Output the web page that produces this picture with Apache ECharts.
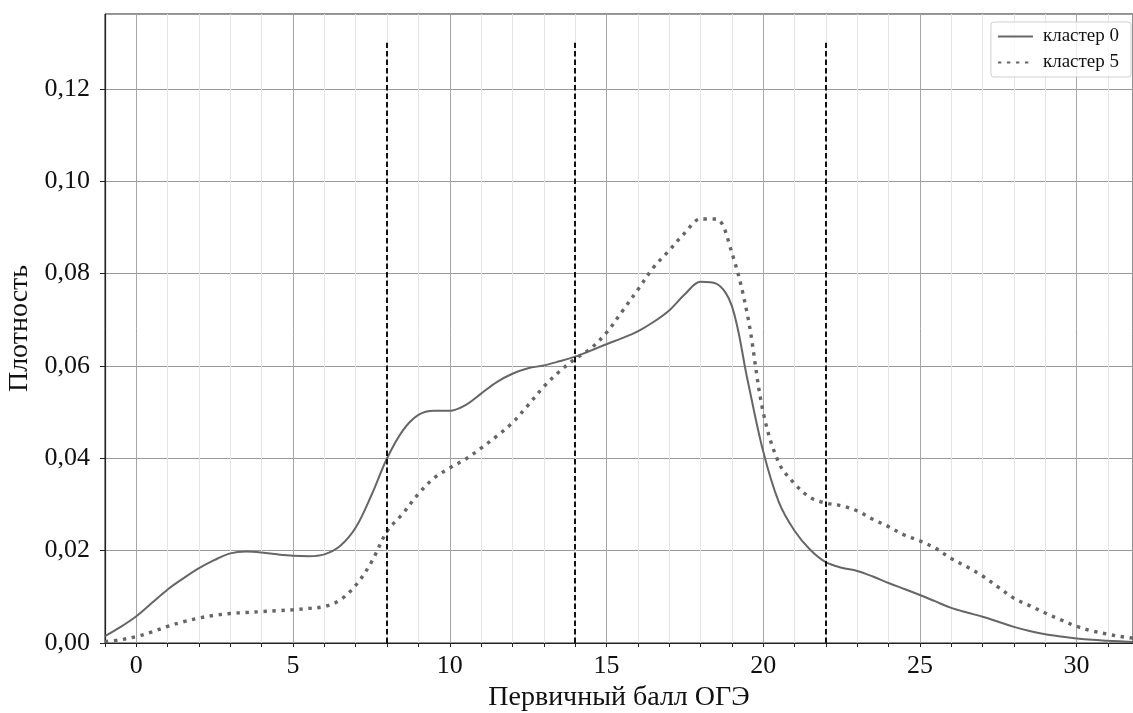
<!DOCTYPE html>
<html>
<head>
<meta charset="utf-8">
<script src="https://cdn.jsdelivr.net/npm/echarts@6/dist/echarts.min.js"></script>
<style>html,body{margin:0;padding:0;background:#fff;}#c{width:1133px;height:713px;}</style>
</head>
<body>
<div id="c"></div>
<script>
const xs = [-1,-0.5,0,0.5,1,1.5,2,2.5,3,3.5,4,4.5,5,5.5,6,6.5,7,7.5,8,8.5,9,9.5,10,10.5,11,11.5,12,12.5,13,13.5,14,14.5,15,15.5,16,16.5,17,17.5,18,18.5,19,19.5,20,20.5,21,21.5,22,22.5,23,23.5,24,24.5,25,25.5,26,26.5,27,27.5,28,28.5,29,29.5,30,30.5,31,31.5,32];
const cluster0 = [0.0015,0.0035,0.0058,0.0087,0.0116,0.014,0.0162,0.018,0.0194,0.0198,0.0196,0.0192,0.0189,0.0188,0.0192,0.021,0.025,0.032,0.040,0.046,0.0494,0.0503,0.0503,0.0515,0.054,0.0565,0.0583,0.0595,0.0601,0.061,0.062,0.0633,0.0647,0.066,0.0675,0.0695,0.072,0.0755,0.0782,0.0778,0.073,0.057,0.0415,0.0305,0.0243,0.0202,0.0175,0.0163,0.0156,0.0144,0.013,0.0117,0.0104,0.009,0.0076,0.0066,0.0057,0.0046,0.0035,0.0026,0.0019,0.0014,0.001,0.0007,0.0005,0.0003,0.0002];
const cluster5 = [0.0003,0.0007,0.0014,0.0024,0.0036,0.0046,0.0054,0.006,0.0064,0.0066,0.0068,0.007,0.0072,0.0075,0.0079,0.0093,0.0125,0.0175,0.0242,0.028,0.0323,0.0357,0.0379,0.0398,0.0422,0.0448,0.0477,0.0515,0.0555,0.0588,0.0615,0.0638,0.0672,0.0718,0.0765,0.0813,0.085,0.0888,0.0918,0.0918,0.0845,0.071,0.050,0.039,0.0345,0.0315,0.0303,0.0297,0.0286,0.0268,0.0252,0.0234,0.0221,0.0205,0.0183,0.0165,0.0145,0.0121,0.0097,0.0081,0.0065,0.005,0.0036,0.0026,0.0019,0.0013,0.0009];
const seriesNames = ['кластер 0', 'кластер 5'];
const vlines = [8, 14, 22];
const vlineTop = 0.13;
const xRange = [-1, 31.8];
const yRange = [0, 0.1362];

const FONT = '"Liberation Serif", "DejaVu Serif", serif';
const chart = echarts.init(document.getElementById('c'));
chart.setOption({
  animation: false,
  backgroundColor: '#fff',
  grid: { left: 105, right: 0, top: 14, bottom: 70, containLabel: false, outerBoundsMode: 'none',
          show: true, borderColor: '#222', borderWidth: 1, backgroundColor: 'transparent' },
  legend: {
    orient: 'vertical', right: 2, top: 22,
    padding: [5, 12, 5, 6], itemGap: 7, itemWidth: 35, itemHeight: 18,
    borderColor: '#cfcfcf', borderWidth: 1, borderRadius: 3, backgroundColor: 'rgba(255,255,255,0.8)',
    itemStyle: { opacity: 0 },
    textStyle: { fontFamily: FONT, fontSize: 19, color: '#111', padding: [0, 0, 0, 5] },
    data: seriesNames
  },
  xAxis: {
    type: 'value', min: xRange[0], max: xRange[1], interval: 1,
    name: 'Первичный балл ОГЭ', nameLocation: 'middle', nameGap: 36,
    nameTextStyle: { fontFamily: FONT, fontSize: 28, color: '#111' },
    axisLine: { show: true, onZero: false, lineStyle: { color: '#222', width: 1.2 } },
    axisTick: { show: true, length: 4, lineStyle: { color: '#222' } },
    axisLabel: {
      fontFamily: FONT, fontSize: 26, color: '#111', margin: 10,
      formatter: v => (Math.abs(v % 5) < 1e-9 ? String(v) : '')
    },
    splitLine: { show: true, lineStyle: { color: ['#e4e4e4', '#a6a6a6', '#e4e4e4', '#e4e4e4', '#e4e4e4'], width: 1 } }
  },
  yAxis: {
    type: 'value', min: yRange[0], max: yRange[1], interval: 0.02,
    name: 'Плотность', nameLocation: 'middle', nameGap: 70,
    nameTextStyle: { fontFamily: FONT, fontSize: 28, color: '#111' },
    axisLine: { show: true, onZero: false, lineStyle: { color: '#222', width: 1.2 } },
    axisTick: { show: true, length: 5, lineStyle: { color: '#222' } },
    axisLabel: {
      fontFamily: FONT, fontSize: 26, color: '#111', margin: 15, showMaxLabel: false,
      formatter: v => v.toFixed(2).replace('.', ',')
    },
    splitLine: { show: true, lineStyle: { color: '#9a9a9a', width: 1 } }
  },
  series: [
    {
      name: seriesNames[0], type: 'line', showSymbol: false, symbol: 'none',
      smooth: 0.35,
      lineStyle: { color: '#666', width: 2 }, itemStyle: { color: '#666' },
      data: xs.map((x, i) => [x, cluster0[i]]),
      markLine: {
        silent: true, symbol: 'none', label: { show: false },
        lineStyle: { color: '#111', width: 2, type: [5.5, 3] },
        data: vlines.map(v => [{ coord: [v, 0] }, { coord: [v, vlineTop] }])
      }
    },
    {
      name: seriesNames[1], type: 'line', showSymbol: false, symbol: 'none',
      smooth: 0.35,
      lineStyle: { color: '#666', width: 3.4, type: [3.4, 5.6] }, itemStyle: { color: '#666' },
      data: xs.map((x, i) => [x, cluster5[i]])
    }
  ]
});
</script>
</body>
</html>
